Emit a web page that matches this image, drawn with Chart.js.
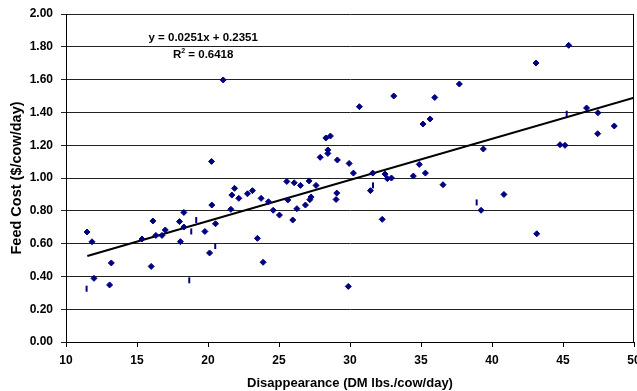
<!DOCTYPE html>
<html>
<head>
<meta charset="utf-8">
<script src="https://cdn.jsdelivr.net/npm/chart.js@4/dist/chart.umd.min.js"></script>
<style>
  body { margin: 0; background: #fff; }
  #wrap { width: 637px; height: 391px; }
</style>
</head>
<body>
<div id="wrap"><canvas id="myChart" width="637" height="391"></canvas></div>
<script>
// disappearance (DM lbs./cow/day) vs feed cost ($/cow/day)
const dmX = [11.48, 11.83, 11.97, 13.07, 13.19, 15.35, 16.0, 16.12, 16.33, 16.76, 16.99, 17.99, 18.06, 18.3, 18.3,
  19.78, 20.11, 20.27, 20.53, 21.61, 21.68, 21.87, 22.17, 22.78, 23.13, 23.48, 23.74, 23.88, 24.26, 24.59, 25.03,
  25.55, 25.62, 25.97, 26.07, 26.26, 26.51, 26.86, 27.12, 27.17, 27.26, 27.61, 21.07, 20.25, 27.9,
  30.66, 33.08, 35.97, 37.7, 43.1, 45.4, 35.14, 35.64, 28.3, 28.62, 28.44, 28.44, 29.11, 29.94, 30.24, 31.6,
  32.47, 32.63, 32.92, 34.46, 34.88, 35.31, 39.39, 36.55, 40.84, 46.66, 47.46, 47.44, 48.61, 44.79, 45.14,
  29.07, 29.02, 31.44, 29.88, 32.27, 39.23, 43.15];
const costY = [0.671, 0.611, 0.388, 0.348, 0.482, 0.628, 0.461, 0.738, 0.65, 0.65, 0.683, 0.734, 0.612, 0.79, 0.701,
  0.674, 0.543, 0.835, 0.721, 0.809, 0.896, 0.937, 0.876, 0.904, 0.923, 0.632, 0.876, 0.486, 0.855, 0.803, 0.774,
  0.979, 0.866, 0.744, 0.971, 0.813, 0.955, 0.835, 0.982, 0.868, 0.884, 0.955, 1.598, 1.101, 1.126,
  1.435, 1.5, 1.491, 1.573, 1.701, 1.809, 1.329, 1.36, 1.244, 1.256, 1.171, 1.15, 1.11, 1.089, 1.03, 1.03,
  1.024, 0.996, 1.0, 1.012, 1.083, 1.03, 1.177, 0.959, 0.9, 1.427, 1.398, 1.27, 1.317, 1.203, 1.199,
  0.908, 0.869, 0.923, 0.339, 0.748, 0.803, 0.66];
// points that show only as short vertical dashes
const dashX = [11.45, 18.68, 19.17, 18.82, 20.51, 31.62, 38.92, 45.26];
const dashY = [0.325, 0.376, 0.744, 0.674, 0.585, 0.955, 0.851, 1.392];
// linear trend line end points
const trendX = [11.5, 50];
const trendY = [0.524, 1.490];
const xTicks = [10, 15, 20, 25, 30, 35, 40, 45, 50];
const eqText = 'y = 0.0251x + 0.2351';
const r2Parts = ['R', '2', ' = 0.6418'];

const navy = '#000080';
const font = 'Arial, "Liberation Sans", sans-serif';

const toPts = (xs, ys) => xs.map((x, i) => ({ x: x, y: ys[i] }));

const frame = {
  id: 'frame',
  afterDatasetsDraw(chart) {
    const a = chart.chartArea;
    const c = chart.ctx;
    c.save();
    c.strokeStyle = '#000';
    c.lineWidth = 1;
    c.beginPath();
    c.moveTo(a.right - 0.5, a.top);
    c.lineTo(a.right - 0.5, a.bottom);
    c.stroke();
    // trend equation
    const sx = chart.scales.x, sy = chart.scales.y;
    const cx = sx.getPixelForValue(19.66);
    c.fillStyle = '#000';
    c.textBaseline = 'middle';
    c.font = 'bold 11.5px ' + font;
    c.textAlign = 'center';
    c.fillText(eqText, cx, sy.getPixelForValue(1.855));
    // R squared with superscript
    const y2 = sy.getPixelForValue(1.752);
    const big = 'bold 11.5px ' + font, small = 'bold 7px ' + font;
    c.font = big;
    const w0 = c.measureText(r2Parts[0]).width, w2 = c.measureText(r2Parts[2]).width;
    c.font = small;
    const w1 = c.measureText(r2Parts[1]).width;
    let x0 = cx - (w0 + w1 + w2) / 2;
    c.textAlign = 'left';
    c.font = big;
    c.fillText(r2Parts[0], x0, y2);
    c.font = small;
    c.fillText(r2Parts[1], x0 + w0, y2 - 4);
    c.font = big;
    c.fillText(r2Parts[2], x0 + w0 + w1, y2);
    c.restore();
  }
};

new Chart(document.getElementById('myChart').getContext('2d'), {
  type: 'scatter',
  data: {
    datasets: [{
      label: 'Feed cost',
      data: toPts(dmX, costY),
      pointStyle: 'rectRot',
      pointRadius: 3,
      backgroundColor: navy,
      borderColor: navy,
      borderWidth: 1
    }, {
      label: 'dash',
      data: toPts(dashX, dashY),
      pointStyle: 'line',
      rotation: 90,
      pointRadius: 3,
      borderColor: navy,
      borderWidth: 2
    }, {
      type: 'line',
      label: 'Linear',
      data: toPts(trendX, trendY),
      borderColor: '#000',
      borderWidth: 2,
      pointRadius: 0,
      fill: false
    }]
  },
  options: {
    responsive: false,
    animation: false,
    layout: { autoPadding: false, padding: { top: 14, right: 3, left: 0, bottom: 0 } },
    plugins: { legend: { display: false }, tooltip: { enabled: false } },
    scales: {
      x: {
        type: 'linear',
        min: 10,
        max: 50,
        afterBuildTicks: s => { s.ticks = xTicks.map(v => ({ value: v })); },
        afterFit: s => { s.height = 49; s.paddingLeft = 0; s.paddingRight = 0; },
        grid: { drawOnChartArea: false, color: '#000', tickLength: 5 },
        border: { color: '#000' },
        ticks: { color: '#000', font: { family: font, size: 12, weight: 'bold' }, padding: 6, maxRotation: 0 },
        title: { display: true, text: 'Disappearance (DM lbs./cow/day)', color: '#000',
          font: { family: font, size: 13, weight: 'bold' }, padding: { top: 5, bottom: 0 } }
      },
      y: {
        min: 0,
        max: 2,
        afterFit: s => { s.width = 66; s.paddingTop = 0; s.paddingBottom = 0; },
        grid: { color: '#222', tickLength: 5 },
        border: { color: '#000' },
        ticks: { stepSize: 0.2, color: '#000', font: { family: font, size: 12, weight: 'bold' }, padding: 8,
          callback: v => v.toFixed(2) },
        title: { display: true, text: 'Feed Cost ($/cow/day)', color: '#000',
          font: { family: font, size: 14.5, weight: 'bold' }, padding: { top: 8, bottom: 2 } }
      }
    }
  },
  plugins: [frame]
});
</script>
</body>
</html>
